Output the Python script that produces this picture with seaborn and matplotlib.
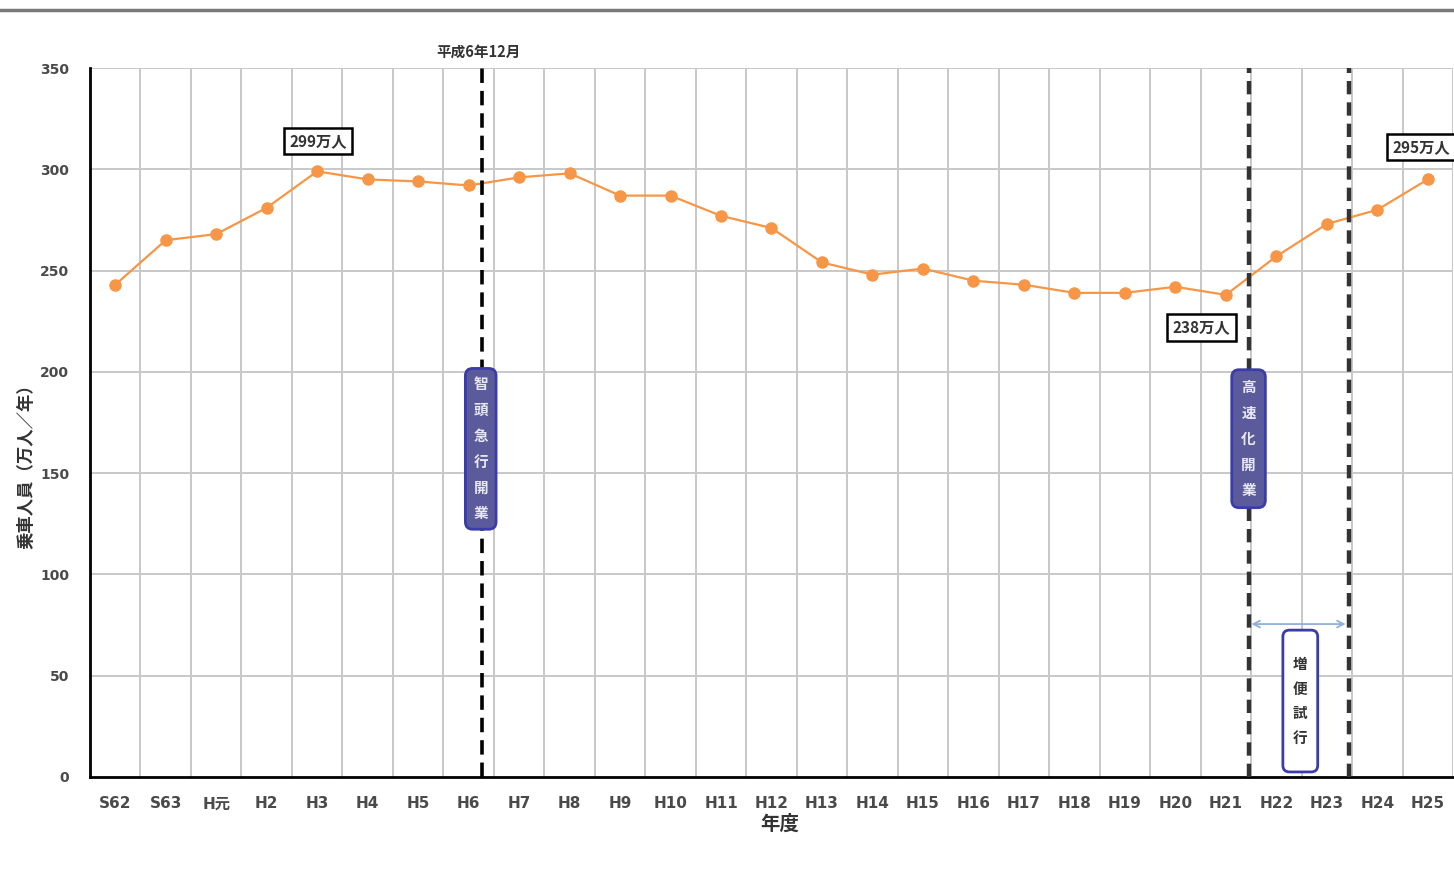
import matplotlib
matplotlib.use("Agg")
import matplotlib.pyplot as plt
import seaborn as sns
import pandas as pd
from matplotlib.lines import Line2D
from matplotlib.patches import FancyBboxPatch

years = ["S62", "S63", "H元", "H2", "H3", "H4", "H5", "H6", "H7", "H8", "H9", "H10", "H11",
         "H12", "H13", "H14", "H15", "H16", "H17", "H18", "H19", "H20", "H21", "H22", "H23",
         "H24", "H25"]
riders = [243, 265, 268, 281, 299, 295, 294, 292, 296, 298, 287, 287, 277,
          271, 254, 248, 251, 245, 243, 239, 239, 242, 238, 257, 273, 280, 295]
yticks = [0, 50, 100, 150, 200, 250, 300, 350]
event_x = [7.27, 22.45, 24.43]
event_labels = ["智頭急行開業", "高速化開業", "増便試行"]

sns.set_theme(style="white")
plt.rcParams['font.family'] = ['Noto Sans CJK JP', 'DejaVu Sans']
tick_font = ['DejaVu Sans', 'Noto Sans CJK JP']

df = pd.DataFrame({"year": years, "riders": riders})

fig = plt.figure(figsize=(14.54, 8.73), dpi=100)
ax = fig.add_axes([90/1454, 1-777/873, 1363/1454, (777-68)/873])

tick_color = "#4a4a4a"
# grid
for i in range(len(years) + 1):
    ax.axvline(i - 0.5, color="#c8c8c8", lw=1.4, zorder=0)
for t in yticks[1:]:
    ax.axhline(t, color="#c8c8c8", lw=1.4, zorder=0)

sns.lineplot(data=df, x="year", y="riders", ax=ax, color="#f79646", lw=1.6,
             marker="o", markersize=9, markeredgewidth=0, zorder=3, sort=False)

ax.set_xlim(-0.5, len(years) - 0.5)
ax.set_ylim(0, 350)
ax.set_yticks(yticks)
ax.set_xticks(range(len(years)))
ax.set_xticklabels(years)
ax.tick_params(axis="both", length=0, labelcolor=tick_color)
ax.tick_params(axis="x", pad=14)
ax.tick_params(axis="y", pad=15)
for lab in ax.get_xticklabels():
    lab.set_fontweight("bold")
    lab.set_family(tick_font)
    lab.set_fontsize(11)
for lab in ax.get_yticklabels():
    lab.set_fontweight("bold")
    lab.set_family(tick_font)
    lab.set_fontsize(10)

for s in ["top", "right"]:
    ax.spines[s].set_visible(False)
for s in ["left", "bottom"]:
    ax.spines[s].set_color("black")
    ax.spines[s].set_linewidth(2)

ax.set_xlabel("年度", fontsize=14, fontweight="bold", color="#333333")
ax.xaxis.set_label_coords((780 - 90) / 1363, -(815 - 777) / 709)
ax.set_ylabel("乗車人員（万人／年）", fontsize=12.5, fontweight="bold", color="#333333")
ax.yaxis.set_label_coords((35 - 90) / 1363, (777 - 462) / 709)

# event dashed lines
ax.axvline(event_x[0], color="black", lw=2.6, ls=(0, (4, 2.2)), zorder=4)
ax.axvline(event_x[1], color="#333333", lw=3.2, ls=(0, (3, 1.8)), zorder=4)
ax.axvline(event_x[2], color="#333333", lw=3.2, ls=(0, (3, 1.8)), zorder=4)
ax.text(event_x[0] - 0.08, 354, "平成6年12月", ha="center", va="bottom", fontsize=10.5,
        fontweight="bold", color="#333333", clip_on=False)

# value annotation boxes
box = dict(boxstyle="square,pad=0.35", fc="white", ec="black", lw=1.8)
ax.text(4.02, 314, f"{riders[4]}万人", ha="center", va="center", fontsize=11,
        fontweight="bold", color="#333333", bbox=box, zorder=6)
ax.text(21.52, 222, f"{riders[22]}万人", ha="center", va="center", fontsize=11,
        fontweight="bold", color="#333333", bbox=box, zorder=6)
ax.text(25.3, 311, f"{riders[26]}万人", ha="left", va="center", fontsize=11,
        fontweight="bold", color="#333333", bbox=box, zorder=6, clip_on=False)

# vertical label boxes
dark = dict(boxstyle="round,pad=0.55,rounding_size=0.5", fc="#5b5b9b", ec="#3c3ca8", lw=2)
ax.text(event_x[0] - 0.03, 162, "\n".join(event_labels[0]), ha="center", va="center",
        fontsize=10.5, fontweight="bold", color="#e8e8f4", linespacing=1.75, bbox=dark, zorder=7)
dark2 = dict(boxstyle="round,pad=0.65,rounding_size=0.5", fc="#5b5b9b", ec="#3c3ca8", lw=2)
ax.text(event_x[1], 167, "\n".join(event_labels[1]), ha="center", va="center",
        fontsize=10.5, fontweight="bold", color="#e8e8f4", linespacing=1.75, bbox=dark2, zorder=7)

# 増便試行 box (drawn as a patch so it can be taller than wide padding allows)
bx0, bx1 = 23.13, 23.82
by0, by1 = 2.5, 72.5
ax.add_patch(FancyBboxPatch((bx0, by0), bx1 - bx0, by1 - by0,
                            boxstyle="round,pad=0,rounding_size=0.13", mutation_aspect=25,
                            fc="white", ec="#3c3ca8", lw=2, zorder=7))
ax.text((bx0 + bx1) / 2, (by0 + by1) / 2, "\n".join(event_labels[2]), ha="center",
        va="center", fontsize=10.5, fontweight="bold", color="#333333", linespacing=1.65,
        zorder=8)
ax.annotate("", xy=(event_x[2], 75.5), xytext=(event_x[1], 75.5),
            arrowprops=dict(arrowstyle="<->", color="#8fb0d8", lw=1.3), zorder=5)

# top rule
fig.add_artist(Line2D([0, 1], [1 - 10/873, 1 - 10/873], color="#7a7a7a", lw=2.5,
                      transform=fig.transFigure))

fig.savefig("out.png", dpi=100)
